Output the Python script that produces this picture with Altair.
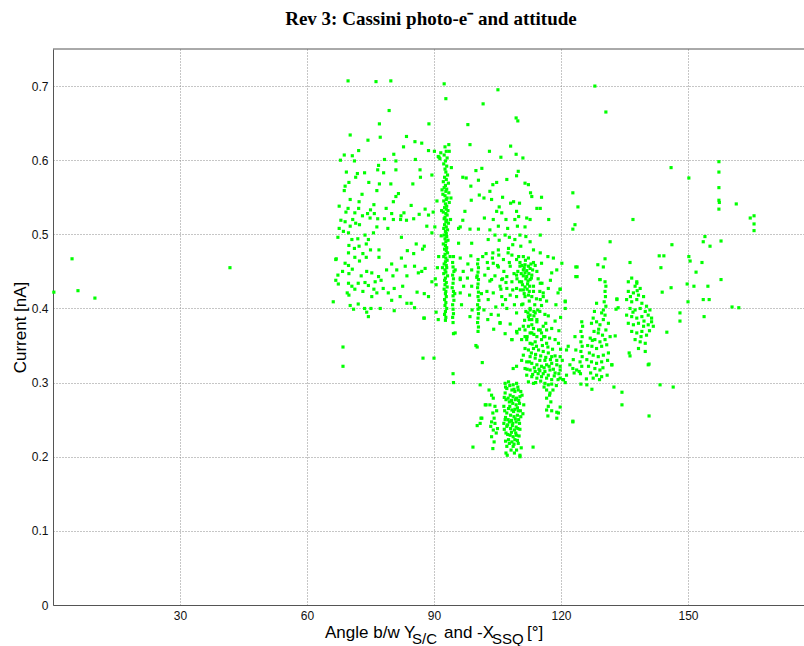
import altair as alt
import pandas as pd

# ---- data: (angle [deg], current [nA]) ----
left_outliers = [(0.2, 0.422), (4.5, 0.467), (5.9, 0.424), (9.9, 0.414), (41.8, 0.455)]

upper_outliers = [(69.7, 0.707), (76.3, 0.706), (79.8, 0.707), (92.4, 0.703), (92.8, 0.683),
                  (105.1, 0.695), (101.6, 0.676), (79.4, 0.667), (109.4, 0.657), (109.8, 0.653),
                  (128.0, 0.700), (130.6, 0.665), (98.0, 0.648)]

cloud_a = [
    (77.1, 0.649), (88.8, 0.649), (70.2, 0.634), (77.3, 0.631), (74.4, 0.627), (83.5, 0.632),
    (85.5, 0.625), (87.1, 0.623), (82.8, 0.618), (72.2, 0.613), (88.7, 0.613), (80.5, 0.608),
    (68.8, 0.607), (70.7, 0.606), (67.9, 0.600), (71.2, 0.599), (78.3, 0.601), (81.0, 0.599),
    (85.6, 0.601), (76.9, 0.593), (76.7, 0.587), (81.0, 0.587), (86.7, 0.587), (69.3, 0.584),
    (71.9, 0.582), (73.6, 0.583), (78.1, 0.583), (71.5, 0.577), (86.8, 0.577), (69.9, 0.570),
    (74.6, 0.570), (77.1, 0.568), (79.8, 0.568), (85.0, 0.568), (69.0, 0.565), (76.5, 0.559),
    (68.8, 0.559), (73.0, 0.554), (81.6, 0.555), (81.0, 0.551), (70.2, 0.547), (72.3, 0.544),
    (80.4, 0.544), (75.8, 0.540), (75.0, 0.533), (67.6, 0.538), (69.7, 0.535), (72.2, 0.535),
    (78.7, 0.535), (84.6, 0.539), (87.9, 0.534), (82.9, 0.529), (69.2, 0.530), (71.3, 0.529),
    (74.3, 0.528), (75.9, 0.528), (80.0, 0.528), (82.2, 0.525), (86.5, 0.527), (88.7, 0.526),
    (73.1, 0.525), (74.9, 0.522), (78.3, 0.521), (70.8, 0.520), (68.0, 0.519), (69.0, 0.517),
    (76.7, 0.521), (82.1, 0.520), (85.2, 0.521), (80.4, 0.520), (83.5, 0.519), (72.4, 0.513),
    (70.2, 0.511), (71.5, 0.515), (76.5, 0.510), (79.1, 0.508), (67.6, 0.508), (68.6, 0.504),
    (69.8, 0.502), (88.3, 0.511), (89.5, 0.502), (67.3, 0.496), (73.7, 0.499), (75.7, 0.502),
    (82.3, 0.496), (74.5, 0.493), (70.6, 0.493), (72.0, 0.494), (74.0, 0.487), (69.9, 0.485),
    (72.3, 0.484), (71.2, 0.481), (85.8, 0.487), (87.7, 0.484), (87.3, 0.480), (75.0, 0.479),
    (77.0, 0.479), (83.7, 0.478), (73.2, 0.474), (69.8, 0.475), (71.3, 0.469), (77.0, 0.469),
    (66.8, 0.466), (74.0, 0.469), (82.3, 0.468), (85.2, 0.474), (72.4, 0.464), (69.0, 0.461),
    (69.8, 0.458), (80.0, 0.460), (83.2, 0.457), (85.4, 0.457), (78.8, 0.452), (81.2, 0.452),
    (87.9, 0.454), (70.7, 0.453), (68.4, 0.450), (74.1, 0.450), (75.3, 0.448), (87.1, 0.450),
    (86.3, 0.448), (69.9, 0.447), (67.3, 0.445), (72.8, 0.444), (76.9, 0.443), (80.3, 0.444),
    (83.6, 0.444), (66.8, 0.438), (76.1, 0.436), (73.7, 0.435), (77.5, 0.438), (69.8, 0.434),
    (72.1, 0.434), (89.5, 0.436), (67.4, 0.433), (70.6, 0.430), (74.5, 0.431), (75.8, 0.426),
    (78.0, 0.427), (80.6, 0.427), (82.6, 0.430), (90.5, 0.432), (71.3, 0.426), (69.5, 0.421),
    (73.2, 0.423), (76.5, 0.421), (79.2, 0.421), (86.0, 0.422), (87.7, 0.420), (69.9, 0.418),
    (75.3, 0.416), (82.0, 0.416), (88.7, 0.416), (80.0, 0.411), (83.6, 0.407), (84.6, 0.407),
    (66.2, 0.409), (72.1, 0.406), (70.2, 0.404), (71.0, 0.399), (73.6, 0.400), (75.1, 0.400),
    (77.3, 0.400), (80.6, 0.397), (85.4, 0.401), (74.1, 0.395), (74.5, 0.389), (87.7, 0.387),
    (90.5, 0.395), (91.0, 0.385), (87.6, 0.387), (68.5, 0.348), (68.5, 0.322), (87.4, 0.333),
    (90.0, 0.333), (66.9, 0.467), (90.1, 0.612), (91.0, 0.605), (91.4, 0.602), (90.3, 0.440),
    (90.8, 0.455), (91.1, 0.470), (90.2, 0.510), (89.8, 0.530), (90.7, 0.545), (89.5, 0.580),
]

column_93 = [
    (92.6, 0.618), (92.9, 0.612), (92.4, 0.607), (93.1, 0.603), (92.7, 0.599), (92.3, 0.595),
    (93.0, 0.592), (92.6, 0.588), (92.8, 0.584), (93.2, 0.580), (92.5, 0.577), (92.9, 0.574),
    (92.2, 0.571), (93.4, 0.569), (92.7, 0.566), (92.4, 0.563), (93.0, 0.561), (92.8, 0.558),
    (93.5, 0.556), (92.1, 0.554), (92.6, 0.552), (93.1, 0.549), (92.9, 0.547), (92.3, 0.545),
    (93.6, 0.543), (92.7, 0.541), (93.0, 0.538), (92.5, 0.536), (92.9, 0.534), (93.3, 0.532),
    (92.2, 0.530), (92.8, 0.528), (93.1, 0.526), (92.6, 0.523), (92.4, 0.521), (93.0, 0.519),
    (92.8, 0.517), (93.4, 0.515), (92.5, 0.513), (92.9, 0.510), (92.3, 0.508), (93.2, 0.506),
    (92.7, 0.504), (92.9, 0.501), (92.4, 0.499), (93.0, 0.497), (92.6, 0.494), (93.3, 0.492),
    (92.8, 0.490), (92.2, 0.487), (92.7, 0.485), (93.0, 0.482), (92.5, 0.480), (92.9, 0.478),
    (93.2, 0.475), (92.6, 0.473), (92.3, 0.470), (92.8, 0.468), (93.1, 0.465), (92.7, 0.463),
    (92.4, 0.460), (92.9, 0.458), (93.0, 0.455), (92.6, 0.452), (92.8, 0.449), (92.3, 0.447),
    (93.2, 0.444), (92.7, 0.441), (92.5, 0.438), (92.9, 0.435), (92.6, 0.432), (93.1, 0.429),
    (92.4, 0.426), (92.8, 0.423), (92.7, 0.420), (92.9, 0.416), (92.5, 0.412), (92.8, 0.408),
    (92.6, 0.404), (93.0, 0.400), (92.7, 0.396), (92.5, 0.392), (92.8, 0.388), (92.7, 0.384),
    (91.9, 0.560), (91.8, 0.532), (94.0, 0.549), (93.9, 0.520), (91.7, 0.498), (93.8, 0.470),
    (92.0, 0.455), (91.6, 0.610), (91.2, 0.604), (93.6, 0.612), (94.1, 0.590), (93.5, 0.621),
]

column_94 = [
    (94.6, 0.470), (94.4, 0.462), (94.5, 0.456), (94.7, 0.450), (94.4, 0.445), (94.6, 0.440),
    (94.5, 0.434), (94.3, 0.428), (94.6, 0.423), (94.5, 0.417), (94.7, 0.411), (94.4, 0.405),
    (94.5, 0.399), (94.6, 0.393), (94.4, 0.388), (94.5, 0.381), (94.6, 0.366), (94.5, 0.312),
    (94.6, 0.300), (95.0, 0.452), (94.9, 0.420),
]

column_100 = [
    (100.4, 0.466), (100.3, 0.460), (100.5, 0.455), (100.4, 0.449), (100.2, 0.444), (100.5, 0.439),
    (100.4, 0.433), (100.3, 0.428), (100.5, 0.422), (100.4, 0.416), (100.6, 0.411), (100.3, 0.405),
    (100.4, 0.399), (100.5, 0.393), (100.4, 0.387), (100.3, 0.381), (100.5, 0.375), (100.4, 0.369),
    (100.2, 0.348), (101.4, 0.327), (100.9, 0.297), (99.9, 0.350), (100.1, 0.442), (100.7, 0.401),
]

cloud_b = [
    (98.5, 0.621), (103.1, 0.612), (108.1, 0.619), (105.8, 0.604), (109.4, 0.608), (111.0, 0.603),
    (101.3, 0.589), (99.9, 0.586), (96.8, 0.577), (97.6, 0.576), (100.5, 0.573), (98.7, 0.565),
    (109.9, 0.585), (109.5, 0.579), (104.8, 0.570), (103.9, 0.567), (107.2, 0.574), (111.5, 0.569),
    (112.3, 0.567), (112.8, 0.556), (103.2, 0.558), (101.8, 0.549), (100.7, 0.553), (103.6, 0.547),
    (106.2, 0.550), (110.2, 0.542), (108.8, 0.544), (108.1, 0.542), (113.1, 0.551), (114.3, 0.535),
    (115.1, 0.535), (115.4, 0.550), (97.3, 0.531), (98.8, 0.546), (96.8, 0.519), (95.8, 0.508),
    (105.4, 0.537), (104.8, 0.531), (106.0, 0.529), (109.5, 0.531), (110.0, 0.524), (109.1, 0.520),
    (111.9, 0.522), (112.7, 0.520), (101.9, 0.522), (104.0, 0.520), (107.0, 0.520), (98.5, 0.507),
    (100.5, 0.507), (96.2, 0.510), (103.2, 0.506), (105.2, 0.511), (107.4, 0.508), (109.7, 0.511),
    (111.5, 0.510), (117.1, 0.520), (104.4, 0.499), (106.8, 0.499), (107.8, 0.496), (110.3, 0.499),
    (111.7, 0.497), (115.1, 0.499), (95.8, 0.488), (98.9, 0.488), (102.8, 0.493), (105.4, 0.492),
    (109.1, 0.493), (112.7, 0.490), (108.6, 0.486), (107.6, 0.481), (110.5, 0.484), (113.5, 0.479),
    (115.1, 0.475), (105.2, 0.479), (103.9, 0.475), (102.3, 0.474), (98.7, 0.471), (108.4, 0.472),
    (111.1, 0.470), (112.3, 0.468), (96.2, 0.468), (109.5, 0.466), (106.4, 0.466), (104.0, 0.461),
    (113.5, 0.462), (115.4, 0.461), (111.5, 0.459), (112.3, 0.457), (112.7, 0.454), (110.3, 0.457),
    (108.0, 0.457), (105.2, 0.456), (102.8, 0.454), (98.9, 0.452), (96.9, 0.450), (111.1, 0.452),
    (114.3, 0.450), (111.5, 0.448), (113.1, 0.445), (111.9, 0.443), (109.5, 0.445), (107.2, 0.443),
    (104.4, 0.444), (103.6, 0.439), (106.0, 0.439), (108.4, 0.436), (110.7, 0.436), (112.7, 0.439),
    (112.1, 0.433), (113.5, 0.430), (115.1, 0.434), (97.9, 0.441), (96.2, 0.439), (98.9, 0.430),
    (105.6, 0.430), (107.2, 0.427), (109.5, 0.427), (111.1, 0.425), (112.5, 0.423), (113.1, 0.416),
    (111.5, 0.416), (109.5, 0.416), (108.0, 0.418), (106.0, 0.416), (104.0, 0.421), (102.5, 0.423),
    (115.8, 0.421), (115.1, 0.412), (96.2, 0.421), (98.4, 0.418), (106.2, 0.405), (107.2, 0.400),
    (110.7, 0.405), (112.7, 0.400), (111.7, 0.396), (113.6, 0.396), (109.5, 0.394), (105.2, 0.391),
    (98.5, 0.389), (96.5, 0.405), (112.5, 0.385), (113.1, 0.378), (111.1, 0.376), (114.3, 0.382),
    (115.1, 0.371), (112.7, 0.367), (109.5, 0.369), (105.6, 0.381), (95.0, 0.367), (111.5, 0.362),
    (116.2, 0.362), (96.2, 0.441), (97.0, 0.430), (98.0, 0.460), (99.0, 0.398),
]

cloud_b_dense = [
    (110.3, 0.462), (110.8, 0.458), (111.3, 0.455), (111.9, 0.451), (112.4, 0.447), (110.6, 0.447),
    (111.1, 0.444), (111.7, 0.440), (112.2, 0.437), (110.2, 0.436), (110.9, 0.432), (111.5, 0.429),
    (112.0, 0.426), (112.6, 0.430), (113.0, 0.441), (113.3, 0.452), (110.4, 0.425), (111.3, 0.420),
    (112.3, 0.418), (113.5, 0.423), (109.8, 0.450), (109.6, 0.440), (112.9, 0.460), (111.6, 0.465),
    (110.0, 0.470), (112.5, 0.410), (111.0, 0.406), (113.8, 0.405), (114.5, 0.398), (113.6, 0.390),
    (112.2, 0.394), (111.4, 0.384), (114.2, 0.413), (115.0, 0.423), (114.6, 0.440), (113.9, 0.458),
    (101.5, 0.470), (102.6, 0.462), (103.8, 0.468), (105.0, 0.458), (106.5, 0.450), (107.8, 0.462),
    (102.0, 0.445), (103.2, 0.437), (105.8, 0.426), (107.0, 0.435), (101.2, 0.420), (102.8, 0.412),
    (104.6, 0.402), (106.9, 0.412), (108.6, 0.425), (108.9, 0.447), (107.5, 0.475), (109.0, 0.405),
    (103.5, 0.392), (101.8, 0.398), (105.3, 0.472), (106.2, 0.440),
    (105.6, 0.380), (108.0, 0.379), (109.6, 0.367), (108.4, 0.358), (110.2, 0.372), (106.8, 0.366),
    (104.1, 0.372), (102.7, 0.385),
    (120.2, 0.461), (119.0, 0.452), (117.8, 0.448), (115.5, 0.434), (115.8, 0.416), (116.6, 0.410),
    (115.4, 0.404), (119.3, 0.421), (121.0, 0.409), (123.8, 0.456), (123.8, 0.443), (116.9, 0.470),
    (118.2, 0.468), (117.5, 0.438), (118.8, 0.405), (116.2, 0.392), (119.9, 0.388), (117.0, 0.427),
    (121.0, 0.400), (119.8, 0.426),
]

cluster_mid = [
    (112.7, 0.398), (115.0, 0.396), (112.3, 0.389), (113.1, 0.385), (115.8, 0.376), (116.6, 0.371),
    (117.8, 0.373), (113.5, 0.373), (113.1, 0.367), (114.3, 0.362), (111.9, 0.358), (112.7, 0.353),
    (113.9, 0.355), (115.4, 0.358), (116.6, 0.353), (118.6, 0.358), (119.4, 0.353), (111.5, 0.346),
    (112.3, 0.344), (113.5, 0.346), (114.7, 0.344), (115.8, 0.342), (117.0, 0.340), (117.8, 0.335),
    (118.6, 0.336), (119.8, 0.335), (111.1, 0.337), (112.7, 0.335), (113.9, 0.333), (115.0, 0.330),
    (116.2, 0.330), (111.9, 0.328), (113.1, 0.326), (114.3, 0.324), (115.4, 0.322), (116.6, 0.324),
    (117.8, 0.326), (119.0, 0.324), (111.5, 0.319), (112.7, 0.317), (113.9, 0.315), (115.0, 0.316),
    (116.2, 0.315), (117.4, 0.317), (118.6, 0.313), (111.9, 0.310), (113.1, 0.308), (114.3, 0.306),
    (115.4, 0.308), (116.6, 0.306), (117.8, 0.304), (119.8, 0.306), (112.3, 0.301), (113.5, 0.299),
    (116.2, 0.299), (117.0, 0.297), (116.6, 0.290), (117.4, 0.286), (116.6, 0.279), (117.6, 0.274),
    (117.0, 0.268), (116.6, 0.263), (119.4, 0.259), (110.7, 0.330), (109.5, 0.322), (108.7, 0.319),
    (110.7, 0.358), (114.7, 0.371), (115.4, 0.367), (108.4, 0.358), (111.5, 0.371), (112.3, 0.376),
    (114.3, 0.385), (112.7, 0.391), (113.9, 0.394), (120.6, 0.304), (119.8, 0.322),
    (113.0, 0.340), (114.0, 0.338), (115.2, 0.336), (116.4, 0.334), (117.5, 0.331), (112.5, 0.328),
    (113.7, 0.320), (114.8, 0.318), (116.0, 0.320), (117.2, 0.322), (118.2, 0.318), (112.0, 0.318),
    (113.3, 0.311), (114.6, 0.312), (115.8, 0.312), (117.0, 0.310), (118.4, 0.309), (114.0, 0.300),
    (115.2, 0.302), (116.0, 0.294), (117.8, 0.298), (118.9, 0.296), (119.5, 0.312), (119.0, 0.330),
    (118.0, 0.345), (116.9, 0.348), (115.6, 0.350), (114.2, 0.349), (113.2, 0.352), (112.0, 0.362),
    (113.6, 0.365), (115.9, 0.362), (117.3, 0.360), (116.4, 0.380), (117.0, 0.390), (118.6, 0.383),
    (119.5, 0.370), (119.9, 0.345), (120.3, 0.330), (117.3, 0.283), (116.9, 0.255), (117.8, 0.262),
    (118.1, 0.290), (121.0, 0.300), (119.8, 0.317), (119.3, 0.304), (119.0, 0.260), (119.8, 0.267),
    (119.0, 0.252), (122.8, 0.247), (113.4, 0.213),
]

cluster_low = [
    (106.8, 0.299), (107.6, 0.301), (108.7, 0.297), (109.5, 0.299), (107.2, 0.292), (108.4, 0.290),
    (109.1, 0.288), (109.9, 0.290), (106.8, 0.286), (108.0, 0.283), (108.7, 0.281), (109.5, 0.279),
    (110.3, 0.281), (107.0, 0.277), (107.8, 0.274), (108.6, 0.272), (109.4, 0.270), (110.2, 0.272),
    (106.5, 0.268), (107.6, 0.265), (108.4, 0.263), (109.1, 0.264), (109.9, 0.262), (107.2, 0.259),
    (108.1, 0.256), (108.9, 0.254), (109.7, 0.256), (110.5, 0.254), (106.8, 0.250), (107.8, 0.247),
    (108.6, 0.245), (109.4, 0.247), (110.2, 0.245), (107.2, 0.241), (108.1, 0.238), (109.0, 0.236),
    (109.8, 0.238), (107.0, 0.232), (108.0, 0.229), (108.7, 0.227), (109.5, 0.229), (107.6, 0.223),
    (108.4, 0.220), (109.1, 0.223), (107.2, 0.214), (108.7, 0.214), (109.9, 0.218), (107.0, 0.205),
    (110.3, 0.202), (109.5, 0.209),
    (106.9, 0.294), (107.9, 0.296), (108.9, 0.291), (109.8, 0.294), (110.5, 0.288), (106.6, 0.280),
    (107.5, 0.279), (108.3, 0.276), (109.2, 0.277), (110.0, 0.276), (106.7, 0.262), (107.9, 0.268),
    (108.8, 0.261), (109.7, 0.266), (110.4, 0.262), (106.9, 0.253), (107.5, 0.250), (108.3, 0.249),
    (109.2, 0.251), (110.0, 0.250), (107.4, 0.243), (108.5, 0.242), (109.4, 0.240), (110.3, 0.237),
    (106.6, 0.237), (107.4, 0.230), (108.3, 0.233), (109.3, 0.232), (110.1, 0.228), (107.8, 0.218),
    (108.9, 0.217), (109.7, 0.222), (106.9, 0.221), (108.2, 0.209), (109.0, 0.205), (110.6, 0.212),
    (106.5, 0.245), (111.0, 0.258), (111.2, 0.270), (110.8, 0.283),
    (103.6, 0.283), (104.0, 0.279), (103.2, 0.270), (104.4, 0.268), (103.9, 0.259), (104.2, 0.252),
    (103.6, 0.247), (104.4, 0.245), (103.4, 0.241), (104.0, 0.236), (104.7, 0.232), (103.6, 0.227),
    (104.2, 0.220), (103.9, 0.211), (102.1, 0.270), (101.3, 0.252), (100.9, 0.245), (102.3, 0.270),
    (100.2, 0.242), (101.1, 0.252), (99.2, 0.213), (110.3, 0.200), (107.3, 0.202), (104.8, 0.262),
    (103.0, 0.290), (105.0, 0.238),
]

cluster_125 = [
    (124.9, 0.382), (125.1, 0.376), (124.7, 0.369), (125.0, 0.362), (124.7, 0.355), (125.0, 0.349),
    (124.7, 0.342), (125.0, 0.335), (124.5, 0.328), (124.9, 0.322), (124.3, 0.315), (124.6, 0.312),
    (123.3, 0.362), (123.5, 0.344), (122.9, 0.331), (122.1, 0.324), (121.7, 0.349), (121.3, 0.344),
    (122.8, 0.319), (123.7, 0.317), (123.1, 0.313), (121.3, 0.310), (120.4, 0.304),
    (127.6, 0.387), (127.2, 0.380), (128.4, 0.382), (129.2, 0.378), (130.0, 0.385), (130.4, 0.391),
    (129.6, 0.394), (130.6, 0.371), (127.8, 0.369), (128.8, 0.367), (129.8, 0.364), (126.9, 0.360),
    (128.0, 0.358), (129.2, 0.355), (130.4, 0.358), (127.3, 0.349), (128.4, 0.346), (129.6, 0.349),
    (130.8, 0.351), (126.7, 0.340), (127.6, 0.337), (128.8, 0.335), (130.0, 0.337), (131.2, 0.340),
    (127.2, 0.328), (128.4, 0.326), (129.6, 0.328), (128.0, 0.319), (129.2, 0.317), (127.0, 0.313),
    (128.4, 0.310), (129.6, 0.308), (127.6, 0.306), (129.1, 0.304), (126.5, 0.322), (126.1, 0.331),
    (131.6, 0.362), (131.2, 0.380), (130.4, 0.436), (130.6, 0.430), (130.4, 0.423), (130.5, 0.416),
    (130.2, 0.409), (130.6, 0.403), (130.0, 0.398), (129.2, 0.439), (128.4, 0.407), (132.0, 0.324),
    (128.9, 0.372), (127.9, 0.396), (126.3, 0.350), (129.9, 0.320), (131.0, 0.330), (130.9, 0.310),
    (126.0, 0.305), (127.4, 0.357),
]

cluster_138 = [
    (136.7, 0.441), (137.9, 0.436), (137.5, 0.430), (138.7, 0.427), (135.9, 0.423), (137.1, 0.421),
    (138.3, 0.418), (139.5, 0.416), (135.5, 0.412), (136.7, 0.409), (137.9, 0.412), (139.1, 0.407),
    (140.2, 0.403), (141.0, 0.398), (136.3, 0.400), (137.5, 0.398), (138.7, 0.400), (139.9, 0.396),
    (140.6, 0.391), (135.5, 0.391), (136.7, 0.389), (137.9, 0.387), (139.1, 0.389), (141.4, 0.387),
    (135.9, 0.380), (137.1, 0.378), (138.3, 0.380), (139.5, 0.376), (140.6, 0.378), (141.8, 0.376),
    (136.7, 0.369), (137.9, 0.367), (139.1, 0.369), (140.2, 0.364), (137.5, 0.358), (138.7, 0.355),
    (139.9, 0.353), (138.3, 0.346), (139.9, 0.342), (136.1, 0.340), (136.3, 0.336), (140.6, 0.324),
    (133.2, 0.412), (133.0, 0.399), (135.9, 0.436), (137.9, 0.434), (141.4, 0.382), (138.0, 0.424),
    (136.4, 0.416), (139.6, 0.383), (137.0, 0.395), (138.9, 0.362), (140.9, 0.370),
]

right_outliers = [
    (146.0, 0.590), (150.2, 0.576), (157.3, 0.598), (157.3, 0.584), (157.3, 0.563), (157.3, 0.546),
    (157.4, 0.543), (157.3, 0.534), (161.4, 0.541), (164.7, 0.522), (165.6, 0.525), (165.6, 0.514),
    (165.6, 0.505), (122.8, 0.556), (124.0, 0.537), (123.3, 0.513), (122.8, 0.507), (137.0, 0.520),
    (131.6, 0.490), (154.0, 0.497), (153.6, 0.490), (155.2, 0.484), (157.8, 0.491), (146.2, 0.486),
    (150.2, 0.470), (150.5, 0.464), (143.2, 0.471), (144.3, 0.471), (143.6, 0.455), (153.3, 0.462),
    (151.9, 0.449), (149.8, 0.433), (151.4, 0.430), (154.7, 0.430), (157.8, 0.439), (143.9, 0.422),
    (146.0, 0.428), (150.0, 0.409), (153.6, 0.412), (155.0, 0.412), (153.8, 0.389), (160.4, 0.402),
    (162.0, 0.401), (148.1, 0.394), (148.1, 0.383), (145.0, 0.368), (143.4, 0.297), (146.5, 0.294),
    (121.0, 0.410), (119.8, 0.426), (123.5, 0.456), (123.5, 0.443), (128.7, 0.459), (130.4, 0.467),
    (130.0, 0.456), (129.2, 0.439), (133.2, 0.413), (133.5, 0.401), (132.8, 0.363), (132.0, 0.324),
    (132.5, 0.294), (134.4, 0.287), (134.4, 0.270), (140.8, 0.255), (122.8, 0.248), (127.3, 0.291),
    (124.7, 0.298), (126.1, 0.297), (136.3, 0.462), (140.8, 0.325),
]

clusters = [left_outliers, upper_outliers, cloud_a, column_93, column_94, column_100,
            cloud_b, cloud_b_dense, cluster_mid, cluster_low, cluster_125, cluster_138,
            right_outliers]

angles = [p[0] for c in clusters for p in c]
currents = [p[1] for c in clusters for p in c]
df = pd.DataFrame({"angle": angles, "current": currents})

x_ticks = [30, 60, 90, 120, 150]
y_ticks = [0, 0.1, 0.2, 0.3, 0.4, 0.5, 0.6, 0.7]

W, H = 751, 556
XMAX = 177.4
SANS = "Liberation Sans"

points = alt.Chart(df).mark_square(size=10, color="#00ff00", opacity=1).encode(
    x=alt.X("angle:Q",
            scale=alt.Scale(domain=[0, XMAX], nice=False, zero=False),
            axis=alt.Axis(values=x_ticks, title=None, grid=True, gridDash=[1, 2],
                          gridColor="#8c8c8c", gridOpacity=1, tickSize=0,
                          domainColor="#555555", labelFont=SANS, labelFontSize=12,
                          labelColor="#111111", labelPadding=5, labelFlush=False)),
    y=alt.Y("current:Q",
            scale=alt.Scale(domain=[0, 0.75], nice=False),
            axis=alt.Axis(values=y_ticks, format=".1~f", title="Current [nA]",
                          grid=True, gridDash=[1, 2], gridColor="#8c8c8c", gridOpacity=1,
                          tickSize=0, domainColor="#555555", labelFont=SANS,
                          labelFontSize=12, labelColor="#111111", labelPadding=5,
                          titleFont=SANS, titleFontSize=17, titleFontWeight="normal",
                          titleColor="#000000", titleAngle=-90, titleX=-33, titleY=H / 2,
                          titleAlign="center", titleBaseline="middle")),
)

one = pd.DataFrame({"k": [0]})

top_border = alt.Chart(one).mark_rule(color="#555555", strokeWidth=1).encode(
    x=alt.value(0), x2=alt.value(W), y=alt.value(0))


def label(txt, px, py, size, font=SANS, weight="normal"):
    return alt.Chart(one).mark_text(align="left", baseline="alphabetic", font=font,
                                    fontSize=size, fontWeight=weight, color="#000000").encode(
        x=alt.value(px), y=alt.value(py), text=alt.value(txt))


xtitle = [
    label("Angle b/w Y", 272, 589, 17),
    label("S/C", 359, 595, 15),
    label("and -X", 391, 589, 17),
    label("SSQ", 439, 595, 15),
    label("[°]", 474, 589, 17),
]

title = alt.Chart(one).mark_text(align="center", baseline="alphabetic",
                                 font="Liberation Serif", fontSize=19, fontWeight="bold",
                                 color="#000000").encode(
    x=alt.value(378), y=alt.value(-24), text=alt.value("Rev 3: Cassini photo-e⁻ and attitude"))

chart = alt.layer(points, top_border, title, *xtitle).properties(
    width=W, height=H,
    autosize=alt.AutoSizeParams(type="none"),
    padding={"left": 53, "top": 49, "right": 0, "bottom": 41},
    background="white",
).configure_view(stroke=None)

chart.save("out.html", embed_options={"renderer": "svg", "actions": False})
